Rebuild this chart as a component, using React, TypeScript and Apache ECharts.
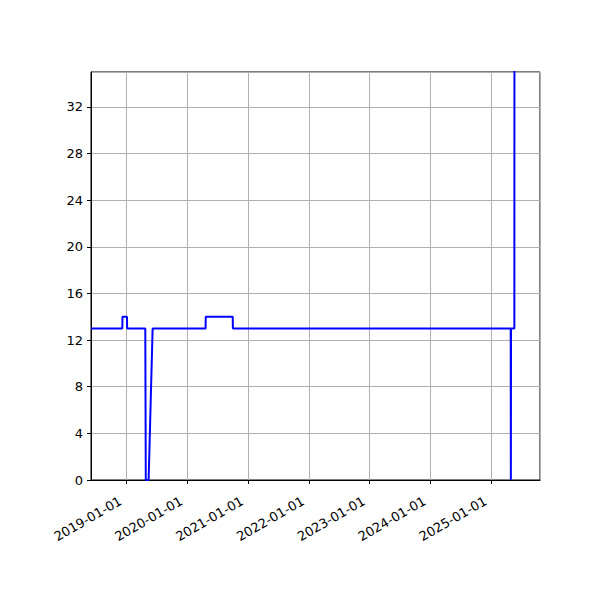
import React, { useEffect, useRef } from "react";
import * as echarts from "echarts";

const dates: string[] = [
  "2018-06-03", "2018-12-08", "2018-12-09", "2019-01-05", "2019-01-06",
  "2019-04-25", "2019-04-28", "2019-05-15", "2019-06-08", "2020-04-21",
  "2020-04-22", "2020-10-01", "2020-10-02", "2025-04-27", "2025-04-28",
  "2025-04-29", "2025-05-19", "2025-05-20",
];
const values: number[] = [
  13, 13, 14, 14, 13,
  13, 0, 0, 13, 13,
  14, 14, 13, 13, 0,
  13, 13, 60,
];
const xMin = "2018-06-03";
const xMax = "2025-10-20";
const yTicks: number[] = [0, 4, 8, 12, 16, 20, 24, 28, 32];

const ts = (d: string) => Date.parse(d + "T00:00:00Z");
const pad = (n: number) => (n < 10 ? "0" + n : "" + n);

export default function App() {
  const ref = useRef<HTMLDivElement>(null);
  useEffect(() => {
    if (!ref.current) return;
    const chart = echarts.init(ref.current, undefined, { renderer: "svg" });
    const font = "DejaVu Sans";
    chart.setOption({
      animation: false,
      useUTC: true,
      backgroundColor: "#ffffff",
      grid: {
        left: 91,
        right: 60,
        top: 72,
        bottom: 120,
        show: true,
        borderColor: "#000000",
        borderWidth: 1,
        backgroundColor: "transparent",
      },
      xAxis: {
        type: "time",
        min: ts(xMin),
        max: ts(xMax),
        minInterval: 365 * 86400000,
        maxInterval: 366 * 86400000,
        axisLine: { show: true, lineStyle: { color: "#000", width: 1 } },
        axisTick: { show: true, length: 4, lineStyle: { color: "#000" } },
        splitLine: { show: true, lineStyle: { color: "#b0b0b0", width: 1 } },
        minorTick: { show: false },
        axisLabel: {
          rotate: 30,
          fontFamily: font,
          fontSize: 13,
          color: "#000",
          margin: 12,
          padding: [8, 9, 0, 0],
          showMinLabel: false,
          showMaxLabel: false,
          formatter: (v: number) => {
            const d = new Date(v);
            return d.getUTCFullYear() + "-" + pad(d.getUTCMonth() + 1) + "-" + pad(d.getUTCDate());
          },
        },
      },
      yAxis: {
        type: "value",
        min: 0,
        max: 35,
        interval: 4,
        axisLine: { show: true, lineStyle: { color: "#000", width: 1 } },
        axisTick: { show: true, length: 4, lineStyle: { color: "#000" } },
        splitLine: { show: true, lineStyle: { color: "#b0b0b0", width: 1 } },
        axisLabel: {
          fontFamily: font,
          fontSize: 13,
          color: "#000",
          margin: 8,
          showMaxLabel: false,
          formatter: (v: number) => (yTicks.indexOf(v) >= 0 ? String(v) : ""),
        },
      },
      series: [
        {
          type: "line",
          data: dates.map((d, i) => [ts(d), values[i]]),
          showSymbol: false,
          symbol: "none",
          clip: true,
          lineStyle: { color: "#0000ff", width: 2 },
          itemStyle: { color: "#0000ff" },
        },
      ],
    });
    return () => chart.dispose();
  }, []);
  return (
    <div
      ref={ref}
      style={{ position: "fixed", left: 0, top: 0, width: 600, height: 600 }}
    />
  );
}
